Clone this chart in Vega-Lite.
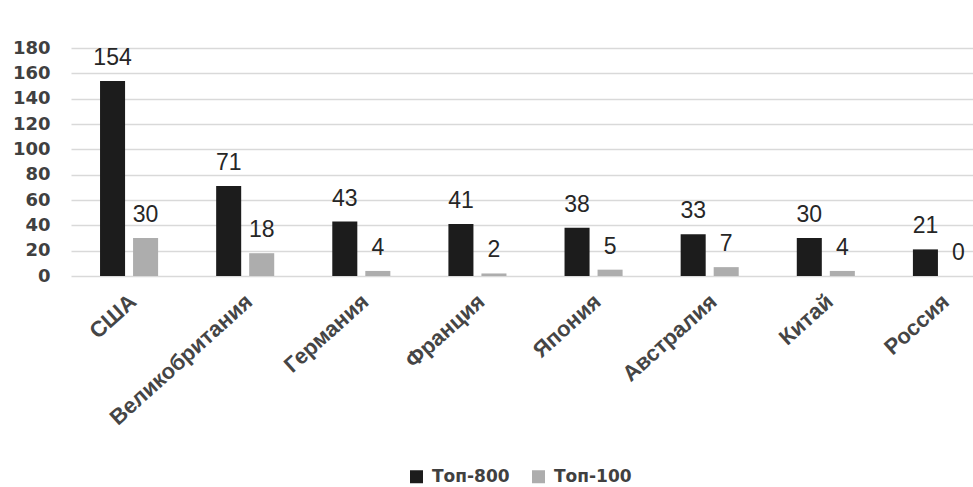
{
  "$schema": "https://vega.github.io/schema/vega-lite/v6.json",
  "width": 898,
  "height": 228,
  "autosize": {"type": "none"},
  "padding": {"left": 71, "top": 48, "right": 4, "bottom": 211},
  "background": "white",
  "config": {"view": {"stroke": null}},
  "data": {
    "values": [
      {"country": "США", "series": "Топ-800", "value": 154},
      {"country": "США", "series": "Топ-100", "value": 30},
      {"country": "Великобритания", "series": "Топ-800", "value": 71},
      {"country": "Великобритания", "series": "Топ-100", "value": 18},
      {"country": "Германия", "series": "Топ-800", "value": 43},
      {"country": "Германия", "series": "Топ-100", "value": 4},
      {"country": "Франция", "series": "Топ-800", "value": 41},
      {"country": "Франция", "series": "Топ-100", "value": 2},
      {"country": "Япония", "series": "Топ-800", "value": 38},
      {"country": "Япония", "series": "Топ-100", "value": 5},
      {"country": "Австралия", "series": "Топ-800", "value": 33},
      {"country": "Австралия", "series": "Топ-100", "value": 7},
      {"country": "Китай", "series": "Топ-800", "value": 30},
      {"country": "Китай", "series": "Топ-100", "value": 4},
      {"country": "Россия", "series": "Топ-800", "value": 21},
      {"country": "Россия", "series": "Топ-100", "value": 0}
    ]
  },
  "encoding": {
    "x": {
      "field": "country",
      "type": "nominal",
      "sort": null,
      "scale": {"range": [0, 929], "paddingInner": 0.5, "paddingOuter": 0.25},
      "axis": {
        "title": null,
        "domain": false,
        "ticks": false,
        "labelAngle": -42,
        "labelAlign": "right",
        "labelBaseline": "middle",
        "labelPadding": 22,
        "labelOffset": 4,
        "labelLimit": 400,
        "labelFont": "Liberation Sans",
        "labelFontSize": 22,
        "labelFontWeight": "bold",
        "labelColor": "#454545"
      }
    },
    "xOffset": {
      "field": "series",
      "type": "nominal",
      "sort": ["Топ-800", "Топ-100"],
      "scale": {"paddingInner": 0.242, "paddingOuter": 0}
    },
    "y": {
      "field": "value",
      "type": "quantitative",
      "scale": {"domain": [0, 180], "nice": false},
      "axis": {
        "title": null,
        "domain": false,
        "ticks": false,
        "values": [0, 20, 40, 60, 80, 100, 120, 140, 160, 180],
        "labelPadding": 21,
        "labelFont": "DejaVu Sans",
        "labelFontSize": 18,
        "labelFontWeight": "bold",
        "labelColor": "#404040",
        "gridColor": "#d9d9d9",
        "gridWidth": 1.5
      }
    }
  },
  "layer": [
    {
      "mark": {"type": "bar"},
      "encoding": {
        "color": {
          "field": "series",
          "type": "nominal",
          "scale": {"domain": ["Топ-800", "Топ-100"], "range": ["#1c1c1c", "#adadad"]},
          "legend": {
            "title": null,
            "orient": "none",
            "direction": "horizontal",
            "legendX": 337,
            "legendY": 420,
            "symbolType": "square",
            "symbolSize": 169,
            "symbolStrokeWidth": 0,
            "labelOffset": 7,
            "columnPadding": 20,
            "labelFont": "DejaVu Sans",
            "labelFontSize": 17,
            "labelFontWeight": "bold",
            "labelColor": "#404040"
          }
        }
      }
    },
    {
      "mark": {
        "type": "text",
        "baseline": "alphabetic",
        "dy": -16,
        "font": "Liberation Sans",
        "fontSize": 23,
        "color": "#262626"
      },
      "encoding": {
        "text": {"field": "value", "type": "quantitative"}
      }
    }
  ]
}
